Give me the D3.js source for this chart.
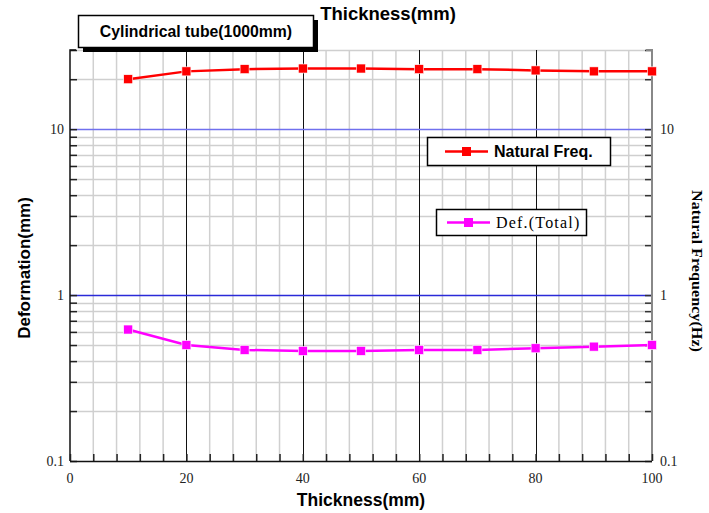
<!DOCTYPE html>
<html>
<head>
<meta charset="utf-8">
<script src="https://cdn.jsdelivr.net/npm/d3@7"></script>
<style>
  html, body { margin: 0; padding: 0; background: #fff; }
  svg { display: block; }
</style>
</head>
<body>
<svg id="chart" width="709" height="513"></svg>
<script>
// Thickness of the cylindrical tube (mm)
const thickness = [10, 20, 30, 40, 50, 60, 70, 80, 90, 100];
// First natural frequency (Hz), right axis
const naturalFreq = [20.0, 22.3, 23.0, 23.2, 23.2, 23.0, 23.0, 22.6, 22.3, 22.3];
// Total deformation (mm), left axis
const deformation = [0.62, 0.50, 0.467, 0.461, 0.461, 0.467, 0.467, 0.478, 0.489, 0.50];

const xTicks = [0, 20, 40, 60, 80, 100];
const xMinorTicks = d3.range(0, 101, 4);
const yTicks = [0.1, 1, 10];
const yTickLabels = ["0.1", "1", "10"];
const yMinor = [0.2,0.3,0.4,0.5,0.6,0.7,0.8,0.9,2,3,4,5,6,7,8,9,20,30];

const svg = d3.select("#chart");
const L = 70, R = 652, T = 50, B = 461;

const x = d3.scaleLinear().domain([0, 100]).range([L, R]);
const y = d3.scaleLog().domain([0.1, 30]).range([B, T]);

const serif = "'Liberation Serif', 'DejaVu Serif', serif";
const sans = "'Liberation Sans', Arial, sans-serif";

// grid: minor verticals
const g = svg.append("g");
g.selectAll("line.vminor").data(xMinorTicks.filter(d => d % 20 !== 0))
  .join("line")
  .attr("x1", d => x(d)).attr("x2", d => x(d))
  .attr("y1", T).attr("y2", B)
  .attr("stroke", "#d0d0d0").attr("stroke-width", 1.5);
// grid: minor horizontals
g.selectAll("line.hminor").data(yMinor)
  .join("line")
  .attr("x1", L).attr("x2", R)
  .attr("y1", d => Math.round(y(d)) + 0.5).attr("y2", d => Math.round(y(d)) + 0.5)
  .attr("stroke", "#cfcfcf").attr("stroke-width", 1.5);
// major verticals
g.selectAll("line.vmajor").data(xTicks.filter(d => d > 0 && d < 100))
  .join("line")
  .attr("x1", d => Math.round(x(d)) + 0.5).attr("x2", d => Math.round(x(d)) + 0.5)
  .attr("y1", T).attr("y2", B)
  .attr("stroke", "#111").attr("stroke-width", 1);
// major horizontals at 1 and 10
g.append("line")
  .attr("x1", L).attr("x2", R)
  .attr("y1", Math.round(y(10)) + 0.5).attr("y2", Math.round(y(10)) + 0.5)
  .attr("stroke", "#7070ee").attr("stroke-width", 1.5);
g.append("line")
  .attr("x1", L).attr("x2", R)
  .attr("y1", Math.round(y(1)) + 0.5).attr("y2", Math.round(y(1)) + 0.5)
  .attr("stroke", "#2a2ad8").attr("stroke-width", 1.5);

// left axis (ticks pointing inward)
const yLeft = d3.axisRight(y).tickValues(yTicks.concat(yMinor)).tickSize(7).tickFormat("");
const gl = svg.append("g").attr("transform", `translate(${L},0)`).call(yLeft);
gl.select(".domain").remove();
gl.selectAll(".tick line").attr("stroke", "#222").attr("stroke-width", 1.5);
svg.append("path")
  .attr("d", `M${L + 6},${T} H${L} V${B}`)
  .attr("fill", "none").attr("stroke", "#111").attr("stroke-width", 1.5);

// right axis (ticks pointing inward)
const yRight = d3.axisLeft(y).tickValues(yTicks.concat(yMinor)).tickSize(7).tickFormat("");
const gr = svg.append("g").attr("transform", `translate(${R},0)`).call(yRight);
gr.select(".domain").remove();
gr.selectAll(".tick line").attr("stroke", "#333").attr("stroke-width", 1.5);
svg.append("path")
  .attr("d", `M${R - 6},${T} H${R} V${B}`)
  .attr("fill", "none").attr("stroke", "#888").attr("stroke-width", 2);

// bottom axis
const xAxis = d3.axisTop(x).tickValues(xMinorTicks).tickSize(7).tickFormat("");
const gb = svg.append("g").attr("transform", `translate(0,${B})`).call(xAxis);
gb.select(".domain").remove();
gb.selectAll(".tick line").attr("stroke", "#222").attr("stroke-width", 1.5);
svg.append("line")
  .attr("x1", L).attr("x2", R).attr("y1", B + 0.5).attr("y2", B + 0.5)
  .attr("stroke", "#111").attr("stroke-width", 1.5);

// tick labels
svg.selectAll("text.xt").data(xTicks).join("text")
  .attr("x", d => x(d)).attr("y", 483)
  .attr("text-anchor", "middle")
  .attr("font-family", serif).attr("font-size", 14).attr("fill", "#222")
  .text(d => d);
svg.selectAll("text.ylt").data(yTicks).join("text")
  .attr("x", 64).attr("y", d => y(d) + 5)
  .attr("text-anchor", "end")
  .attr("font-family", serif).attr("font-size", 14).attr("fill", "#222")
  .text((d, i) => yTickLabels[i]);
svg.selectAll("text.yrt").data(yTicks).join("text")
  .attr("x", 660).attr("y", d => y(d) + 5)
  .attr("text-anchor", "start")
  .attr("font-family", serif).attr("font-size", 14).attr("fill", "#222")
  .text((d, i) => yTickLabels[i]);

// axis titles
svg.append("text")
  .attr("x", 388).attr("y", 20)
  .attr("text-anchor", "middle")
  .attr("font-family", sans).attr("font-weight", "bold").attr("font-size", 18.5)
  .text("Thickness(mm)");
svg.append("text")
  .attr("x", 361).attr("y", 506)
  .attr("text-anchor", "middle")
  .attr("font-family", sans).attr("font-weight", "bold").attr("font-size", 17.5)
  .text("Thickness(mm)");
svg.append("text")
  .attr("transform", "translate(30,268) rotate(-90)")
  .attr("text-anchor", "middle")
  .attr("font-family", sans).attr("font-weight", "bold").attr("font-size", 17)
  .text("Deformation(mm)");
svg.append("text")
  .attr("transform", "translate(692,271) rotate(90)")
  .attr("text-anchor", "middle")
  .attr("font-family", serif).attr("font-weight", "bold").attr("font-size", 15)
  .attr("textLength", 162).attr("lengthAdjust", "spacingAndGlyphs")
  .text("Natural Frequency(Hz)");

// series
const line = d3.line().x(d => x(d[0])).y(d => y(d[1]));
function drawSeries(values, color) {
  const pts = thickness.map((t, i) => [t, values[i]]);
  svg.append("path").datum(pts)
    .attr("d", line).attr("fill", "none")
    .attr("stroke", color).attr("stroke-width", 2.5);
  svg.selectAll(null).data(pts).join("rect")
    .attr("x", d => x(d[0]) - 4.5).attr("y", d => y(d[1]) - 4.5)
    .attr("width", 9).attr("height", 9)
    .attr("fill", color).attr("stroke", "#fff").attr("stroke-width", 0.6);
}
drawSeries(naturalFreq, "#ff0000");
drawSeries(deformation, "#ff00ff");

// title box with drop shadow
svg.append("rect").attr("x", 83).attr("y", 20).attr("width", 235).attr("height", 32).attr("fill", "#000");
svg.append("rect").attr("x", 78.5).attr("y", 15.5).attr("width", 235).attr("height", 32)
  .attr("fill", "#fff").attr("stroke", "#000").attr("stroke-width", 1.5);
svg.append("text")
  .attr("x", 196).attr("y", 37)
  .attr("text-anchor", "middle")
  .attr("font-family", sans).attr("font-weight", "bold").attr("font-size", 15.8)
  .text("Cylindrical tube(1000mm)");

// legends
function legend(x0, y0, w, h, color, label, font, weight, size, spacing, lx, tx) {
  svg.append("rect").attr("x", x0 + 0.5).attr("y", y0 + 0.5).attr("width", w).attr("height", h)
    .attr("fill", "#fff").attr("stroke", "#000").attr("stroke-width", 1.5);
  const cy = y0 + h / 2 + 0.5;
  svg.append("line").attr("x1", x0 + lx).attr("x2", x0 + lx + 43)
    .attr("y1", cy).attr("y2", cy).attr("stroke", color).attr("stroke-width", 2.5);
  svg.append("rect").attr("x", x0 + lx + 21.5 - 4.5).attr("y", cy - 4.5).attr("width", 9).attr("height", 9)
    .attr("fill", color);
  svg.append("text").attr("x", x0 + tx).attr("y", cy + 5.5)
    .attr("font-family", font).attr("font-weight", weight).attr("font-size", size)
    .attr("letter-spacing", spacing)
    .text(label);
}
legend(427, 137, 183, 28, "#ff0000", "Natural Freq.", sans, "bold", 16, 0, 18, 67);
legend(436, 209, 150, 26, "#ff00ff", "Def.(Total)", serif, "normal", 16, 1.2, 11, 60);
</script>
</body>
</html>
